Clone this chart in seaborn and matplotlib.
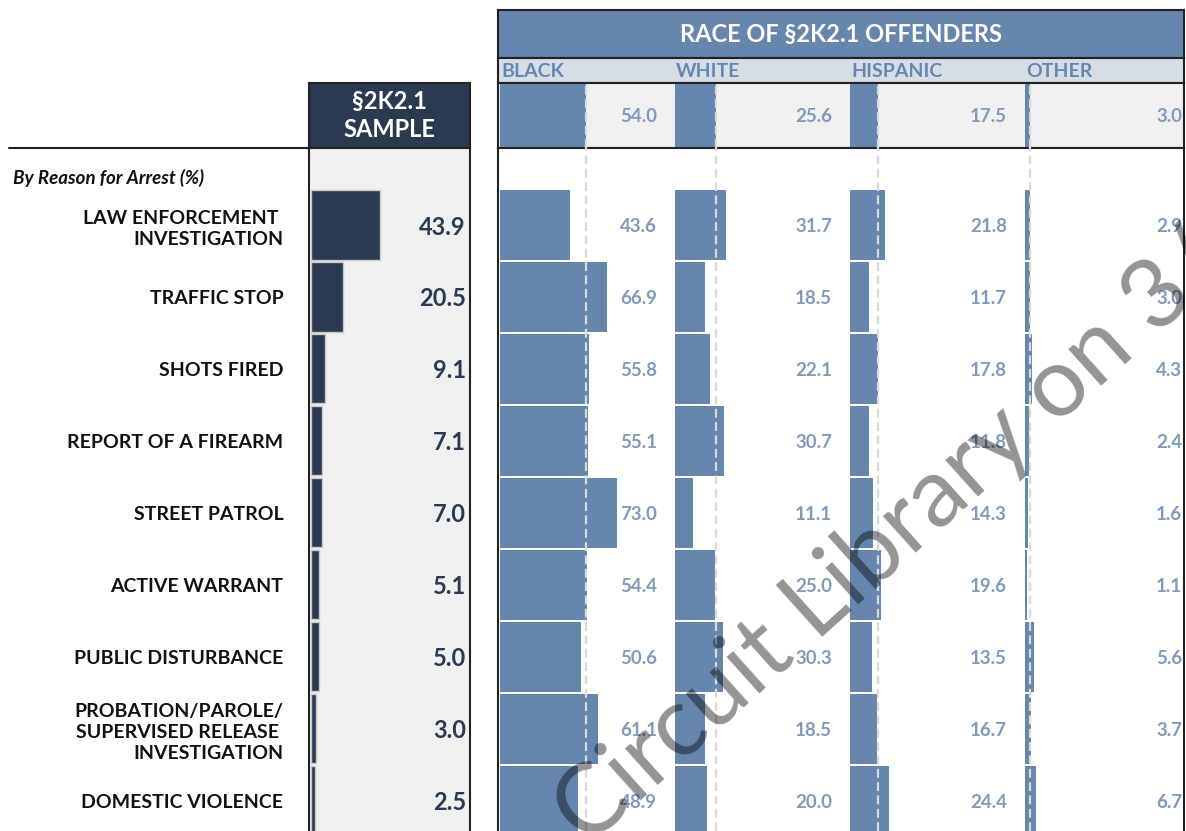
import matplotlib.pyplot as plt
import matplotlib.transforms as mtransforms
from matplotlib.lines import Line2D
import seaborn as sns
import pandas as pd

# data
reasons = ["LAW ENFORCEMENT \nINVESTIGATION", "TRAFFIC STOP", "SHOTS FIRED",
           "REPORT OF A FIREARM", "STREET PATROL", "ACTIVE WARRANT",
           "PUBLIC DISTURBANCE", "PROBATION/PAROLE/\nSUPERVISED RELEASE \nINVESTIGATION",
           "DOMESTIC VIOLENCE"]
sample_pct = [43.9, 20.5, 9.1, 7.1, 7.0, 5.1, 5.0, 3.0, 2.5]
races = ["BLACK", "WHITE", "HISPANIC", "OTHER"]
race_total = [54.0, 25.6, 17.5, 3.0]
black = [43.6, 66.9, 55.8, 55.1, 73.0, 54.4, 50.6, 61.1, 48.9]
white = [31.7, 18.5, 22.1, 30.7, 11.1, 25.0, 30.3, 18.5, 20.0]
hispanic = [21.8, 11.7, 17.8, 11.8, 14.3, 19.6, 13.5, 16.7, 24.4]
other = [2.9, 3.0, 4.3, 2.4, 1.6, 1.1, 5.6, 3.7, 6.7]

df = pd.DataFrame({"reason": reasons, "sample": sample_pct,
                   "BLACK": black, "WHITE": white, "HISPANIC": hispanic, "OTHER": other})
tot = pd.DataFrame({"race": races, "pct": race_total})

sns.set_theme(style="white")
plt.rcParams["font.family"] = ["Lato", "DejaVu Sans"]

NAVY = "#2B3A50"
STEEL = "#6786AD"
VAL = "#8399B9"
PANEL = "#F0F0F0"
EDGE = "#222222"
DASH = "#DADADA"

W, H = 1186, 831
fig = plt.figure(figsize=(W / 100, H / 100), dpi=100)


def box(x0, y0, x1, y1):
    # pixel box (top-left origin) -> figure fraction rect
    return [x0 / W, 1 - y1 / H, (x1 - x0) / W, (y1 - y0) / H]


def clean(ax):
    ax.set_xticks([])
    ax.set_yticks([])
    ax.set_xlabel("")
    ax.set_ylabel("")


ROW_LIM = (8.42, -1.07)

# ---- sample column ----
ax = fig.add_axes(box(309, 148, 470, 831))
sns.barplot(data=df, x="sample", y="reason", orient="h", color=NAVY, saturation=1,
            width=0.96, edgecolor="#C8C8C8", linewidth=1, ax=ax)
ax.set_facecolor(PANEL)
ax.set_xlim(-1.3, 161 / 1.572 - 1.3)
ax.set_ylim(*ROW_LIM)
ax.set_xticks([])
ax.set_xlabel("")
ax.set_ylabel("")
ax.set_yticks(range(len(reasons)))
ax.set_yticklabels(reasons, fontsize=14, fontweight="bold", color="#111111", linespacing=1.3)
ax.tick_params(axis="y", length=0, pad=18.5)
for s in ["top", "bottom"]:
    ax.spines[s].set_visible(False)
for s in ["left", "right"]:
    ax.spines[s].set_color(EDGE)
    ax.spines[s].set_linewidth(1.5)
trans = mtransforms.blended_transform_factory(ax.transAxes, ax.transData)
for i, v in enumerate(sample_pct):
    ax.text(0.975, i, f"{v:.1f}", transform=trans, ha="right", va="center_baseline",
            fontsize=17, fontweight="bold", color=NAVY)

axn = fig.add_axes(box(309, 83, 470, 148))
axn.set_facecolor(NAVY)
clean(axn)
for s in axn.spines.values():
    s.set_color(EDGE)
    s.set_linewidth(1.5)
axn.text(0.5, 0.5, "§2K2.1\nSAMPLE", transform=axn.transAxes, ha="center", va="center",
         fontsize=17, fontweight="bold", color="white", linespacing=1.3)

fig.add_artist(Line2D([9 / W, 309 / W], [1 - 148 / H] * 2, color=EDGE, lw=1.5))
fig.text(13 / W, 1 - 178 / H, "By Reason for Arrest (%)", fontsize=13.5, fontweight="bold",
         style="italic", va="center", color="#111111")

# ---- race panel ----
axh = fig.add_axes(box(498, 10, 1184, 58))
axh.set_facecolor(STEEL)
clean(axh)
axh.text(0.5, 0.5, "RACE OF §2K2.1 OFFENDERS", transform=axh.transAxes, ha="center",
         va="center", fontsize=17, fontweight="bold", color="white")

axs = fig.add_axes(box(498, 58, 1184, 83))
axs.set_facecolor("#D7DDE5")
clean(axs)
for i, race in enumerate(races):
    axs.text((501 + 175 * i - 498) / 686, 0.45, race, transform=axs.transAxes, ha="left",
             va="center", fontsize=14, fontweight="bold", color=STEEL)

bg_top = fig.add_axes(box(498, 83, 1184, 148))
bg_top.set_facecolor(PANEL)
clean(bg_top)
bg_rows = fig.add_axes(box(498, 148, 1184, 831))
bg_rows.set_facecolor("white")
clean(bg_rows)
bg_rows.spines["bottom"].set_visible(False)
for a in [axh, axs, bg_top, bg_rows]:
    for s in a.spines.values():
        s.set_color(EDGE)
        s.set_linewidth(1.5)

for i, race in enumerate(races):
    x0 = 500 + 175 * i
    x1 = min(x0 + 175, 1184)
    xmax = (x1 - x0) / 1.6

    axt = fig.add_axes(box(x0, 83, x1, 148))
    sns.barplot(data=tot[tot.race == race], x="pct", y="race", orient="h", color=STEEL,
                saturation=1, width=0.98, linewidth=0, ax=axt)
    axt.set_xlim(0, xmax)
    axt.set_ylim(0.5, -0.5)
    axt.axvline(race_total[i], color=DASH, lw=1.6, ls=(0, (4, 2)), zorder=3)
    axt.text(98.1, 0, f"{race_total[i]:.1f}", ha="right", va="center_baseline",
             fontsize=13.5, fontweight="bold", color=VAL)
    axt.set_axis_off()

    axr = fig.add_axes(box(x0, 148, x1, 831))
    sns.barplot(data=df, x=race, y="reason", orient="h", color=STEEL, saturation=1,
                width=0.97, linewidth=0, ax=axr)
    axr.set_xlim(0, xmax)
    axr.set_ylim(*ROW_LIM)
    axr.axvline(race_total[i], color=DASH, lw=1.6, ls=(0, (4, 2)), zorder=3)
    for j, v in enumerate(df[race]):
        axr.text(98.1, j, f"{v:.1f}", ha="right", va="center_baseline",
                 fontsize=13.5, fontweight="bold", color=VAL)
    axr.set_axis_off()

# watermark
fig.text(588 / W, 1 - 848 / H, "Circuit Library on 3/2", rotation=42, rotation_mode="anchor",
         ha="left", va="baseline", fontsize=70, color="black", alpha=0.42, zorder=10)

fig.savefig("out.png", dpi=100)
